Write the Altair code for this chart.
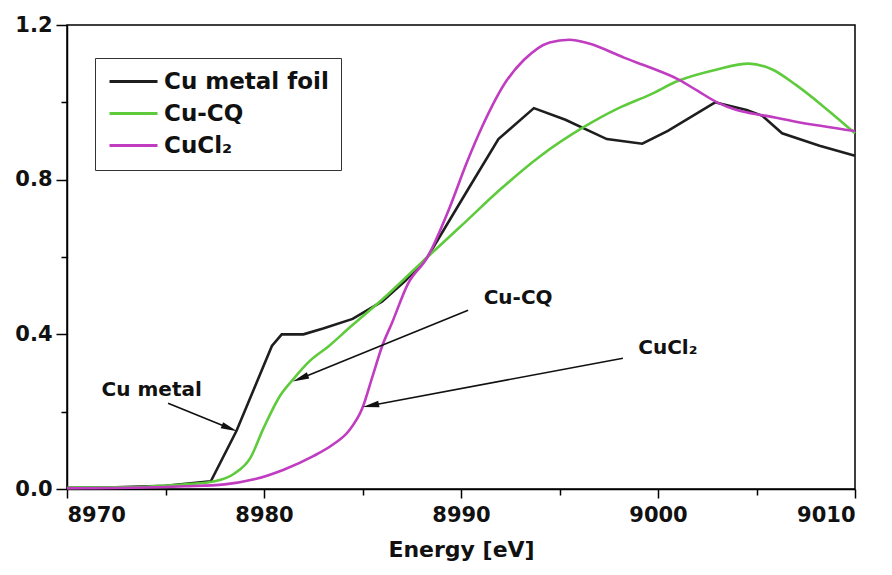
import altair as alt
import pandas as pd

FONT = "DejaVu Sans"

# ---- data ----
foil_E = [8970, 8972, 8975, 8977.3, 8978.6, 8979.5, 8980.4, 8980.9, 8982.0, 8983.0, 8984.5,
          8986.0, 8987.2, 8988.3, 8990.3, 8991.9, 8993.7, 8995.3, 8997.4, 8999.2, 9000.5,
          9002.9, 9004.5, 9005.3, 9006.3, 9008.2, 9010]
foil_mu = [0.003, 0.004, 0.008, 0.02, 0.15, 0.26, 0.37, 0.40, 0.40, 0.415, 0.44,
           0.485, 0.54, 0.60, 0.77, 0.905, 0.985, 0.955, 0.905, 0.893, 0.926,
           1.0, 0.98, 0.965, 0.92, 0.888, 0.862]

cq_E = [8970, 8972, 8974, 8976, 8977.5, 8978.5, 8979.3, 8980.0, 8980.8, 8981.5, 8982.3,
        8983.3, 8984.4, 8986.0, 8988.3, 8990.0, 8992.0, 8994.0, 8996.2, 8998.0, 8999.6,
        9001.0, 9003.0, 9004.6, 9005.8, 9007.0, 9008.5, 9010]
cq_mu = [0.003, 0.004, 0.006, 0.012, 0.02, 0.04, 0.08, 0.16, 0.24, 0.285, 0.33,
         0.37, 0.42, 0.49, 0.60, 0.68, 0.775, 0.86, 0.935, 0.985, 1.02,
         1.055, 1.085, 1.10, 1.085, 1.045, 0.985, 0.92]

cl_E = [8970, 8974, 8976, 8978, 8979.5, 8981.0, 8982.5, 8983.5, 8984.3, 8985.0, 8985.5,
        8986.0, 8986.5, 8987.3, 8988.3, 8989.4, 8990.3, 8991.1, 8992.3, 8993.2, 8994.5,
        8995.5, 8996.5, 8998.3, 8999.6, 9001.0, 9002.0, 9003.0, 9004.0, 9005.5, 9007.0, 9010]
cl_mu = [0.002, 0.004, 0.007, 0.012, 0.025, 0.05, 0.085, 0.115, 0.15, 0.21, 0.29,
         0.37, 0.43, 0.53, 0.60, 0.725, 0.845, 0.94, 1.055, 1.11, 1.155,
         1.162, 1.152, 1.115, 1.09, 1.06, 1.03, 1.0, 0.98, 0.965, 0.95, 0.926]

series_names = ["Cu metal foil", "Cu-CQ", "CuCl₂"]
series_colors = ["#1e1e1e", "#5ecb3c", "#c03cc0"]

# annotations (data space)
ann_text = ["Cu metal", "Cu-CQ", "CuCl₂"]
ann_text_E = [8974.3, 8992.9, 9000.5]
ann_text_mu = [0.255, 0.493, 0.364]
arrow_E1 = [8975.13, 8990.36, 8998.22]
arrow_mu1 = [0.222, 0.462, 0.338]
arrow_E2 = [8978.25, 8981.85, 8985.42]
arrow_mu2 = [0.157, 0.286, 0.216]
arrow_angle = [112, 248, 259]

df_foil = pd.DataFrame({"E": foil_E, "mu": foil_mu, "series": series_names[0]})
df_cq = pd.DataFrame({"E": cq_E, "mu": cq_mu, "series": series_names[1]})
df_cl = pd.DataFrame({"E": cl_E, "mu": cl_mu, "series": series_names[2]})
df_txt = pd.DataFrame({"E": ann_text_E, "mu": ann_text_mu, "label": ann_text})
df_arr = pd.DataFrame({"E": arrow_E1, "mu": arrow_mu1, "E2": arrow_E2, "mu2": arrow_mu2})
df_head = pd.DataFrame({"E": arrow_E2, "mu": arrow_mu2, "ang": arrow_angle})

x_ticks = list(range(8970, 9011, 5))
y_ticks = [0, 0.2, 0.4, 0.6, 0.8, 1.0, 1.2]

x = alt.X("E:Q",
          scale=alt.Scale(domain=[8970, 9010], nice=False, zero=False),
          axis=alt.Axis(title="Energy [eV]", values=x_ticks,
                        labelExpr="datum.value % 10 === 0 ? datum.label : ''",
                        tickSize={"condition": {"test": "datum.value % 10 === 0", "value": 9}, "value": 6},
                        labelPadding=6, titlePadding=14, format="d"))
y = alt.Y("mu:Q",
          scale=alt.Scale(domain=[0, 1.2], nice=False),
          axis=alt.Axis(title=None, values=y_ticks, format=".1f",
                        labelExpr="round(datum.value*10) % 4 === 0 ? datum.label : ''",
                        tickSize={"condition": {"test": "round(datum.value*10) % 4 === 0", "value": 11}, "value": 6},
                        labelPadding=4))

color = alt.Color("series:N",
                  scale=alt.Scale(domain=series_names, range=series_colors),
                  legend=alt.Legend(title=None, orient="none", legendX=28, legendY=33,
                                    symbolType="M-2.4,0L2.4,0", symbolSize=400, symbolStrokeWidth=3,
                                    symbolOffset=15,
                                    labelFont=FONT, labelFontSize=23, labelFontWeight="bold",
                                    labelColor="#111", strokeColor="#333", fillColor="white",
                                    labelLimit=400,
                                    padding=12, rowPadding=8, labelOffset=19))

foil = alt.Chart(df_foil).mark_line(strokeWidth=2.6, interpolate="linear").encode(x=x, y=y, color=color)
cq = alt.Chart(df_cq).mark_line(strokeWidth=2.6, interpolate="monotone").encode(x=x, y=y, color=color)
cl = alt.Chart(df_cl).mark_line(strokeWidth=2.6, interpolate="monotone").encode(x=x, y=y, color=color)

arrows = alt.Chart(df_arr).mark_rule(color="#111", strokeWidth=1.6).encode(
    x=x, y=y, x2="E2:Q", y2="mu2:Q")
heads = alt.Chart(df_head).mark_point(shape="M0,-1L0.4,1L-0.4,1Z", filled=True, size=270,
                                      color="#111", opacity=1, strokeWidth=0).encode(
    x=x, y=y, angle=alt.Angle("ang:Q", scale=None))
texts = alt.Chart(df_txt).mark_text(font=FONT, fontSize=20, fontWeight="bold", color="#111",
                                    align="center", baseline="middle").encode(
    x=x, y=y, text="label:N")

chart = alt.layer(foil, cq, cl, arrows, heads, texts).properties(
    width=788, height=464,
    autosize=alt.AutoSizeParams(type="none"),
    padding={"left": 59, "top": 17, "right": 29, "bottom": 78},
).configure_view(stroke="black", strokeWidth=1.5).configure_axis(
    domainColor="black", domainWidth=1.5, tickColor="black", tickWidth=1.5,
    grid=False, labelFont=FONT, labelFontSize=21, labelFontWeight="bold", labelColor="#111",
    titleFont=FONT, titleFontSize=22, titleFontWeight="bold", titleColor="#111",
)

chart.save("out.html", embed_options={"renderer": "svg", "actions": False})
